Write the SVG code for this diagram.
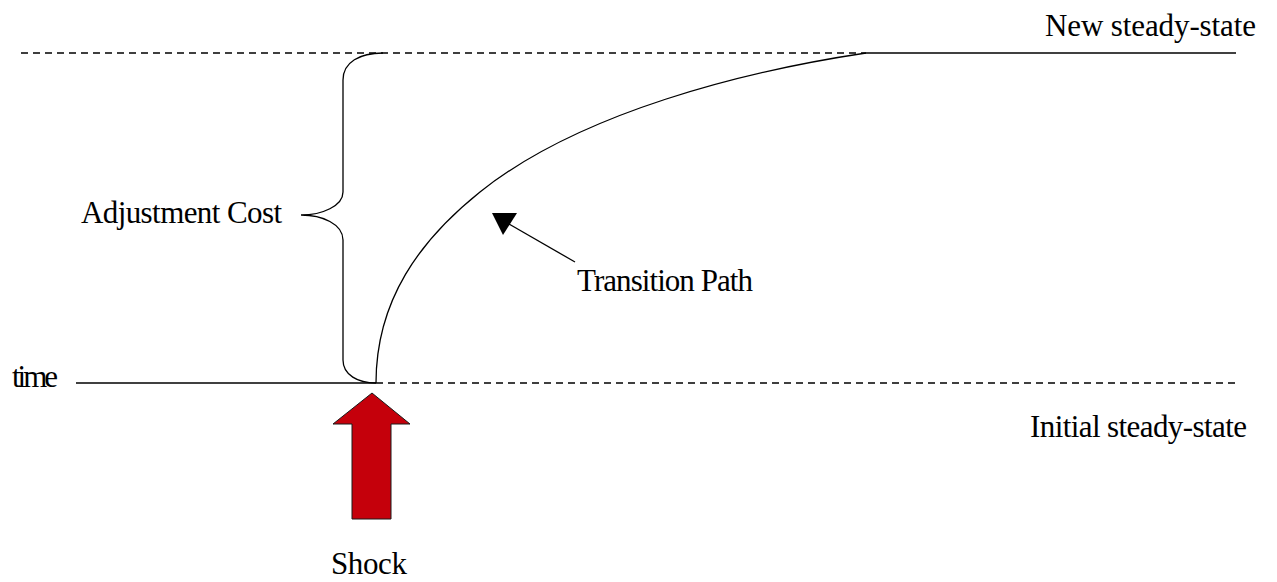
<svg xmlns="http://www.w3.org/2000/svg" width="1277" height="582" viewBox="0 0 1277 582">
<style>
.ln{fill:none;stroke:#000;stroke-width:1.3}
.dash{fill:none;stroke:#000;stroke-width:1.3;stroke-dasharray:7 5}
.lbl{font-family:"Liberation Serif","Times New Roman",serif;font-size:31px;fill:#000}
</style>
<rect width="1277" height="582" fill="#fff"/>
<g id="axes">
<line class="dash" x1="21" y1="53" x2="866" y2="53"/>
<line class="ln" x1="866" y1="53" x2="1236" y2="53"/>
<line class="ln" x1="76" y1="383" x2="376" y2="383"/>
<line class="dash" x1="376" y1="383" x2="1240" y2="383"/>
</g>
<g id="connectors">
<path id="transition-path" class="ln" d="M376,383 C376,300 420,240 480,192 C580,112 746,71 866,53"/>
<path id="brace" class="ln" d="M383,53 C360,53 343,62 343,80 L343,192 C343,206 322,215 301,215 C322,215 343,224 343,240 L343,360 C343,375 358,383 376,383"/>
<line class="ln" x1="509" y1="224" x2="575" y2="262"/>
<polygon points="492,213 517,213 503,235" fill="#000"/>
</g>
<g id="shock-arrow">
<polygon points="372,393 410,424 391,424 391,519 352,519 352,424 333,424" fill="#c5000b" stroke="#1a1a1a" stroke-width="1"/>
</g>
<g id="labels">
<text class="lbl" x="1045" y="36" textLength="211">New steady-state</text>
<text class="lbl" x="81" y="223" textLength="201">Adjustment Cost</text>
<text class="lbl" x="577" y="291" textLength="176">Transition Path</text>
<text class="lbl" x="12" y="387" textLength="46">time</text>
<text class="lbl" x="1030" y="437" textLength="217">Initial steady-state</text>
<text class="lbl" x="331" y="574" textLength="76">Shock</text>
</g>
</svg>
